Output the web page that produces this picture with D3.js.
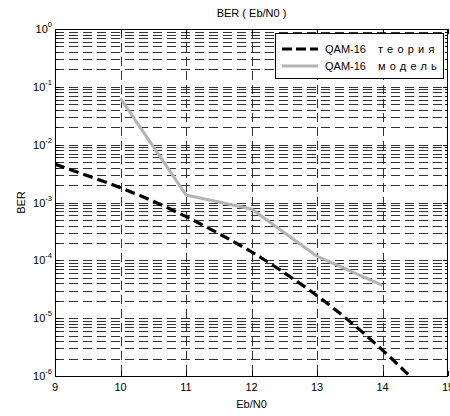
<!DOCTYPE html>
<html>
<head>
<meta charset="utf-8">
<script src="https://cdn.jsdelivr.net/npm/d3@7"></script>
<style>
  body { margin: 0; background: #fff; }
  text { font-family: "Liberation Sans", Arial, Helvetica, sans-serif; fill: #000; }
</style>
</head>
<body>
<div id="chart"></div>
<script>
// Eb/N0 (dB) and BER values
var theoryX = [9, 9.5, 10, 10.5, 11, 11.5, 12, 12.5, 13, 13.5, 14, 14.5, 15];
var theoryY = [4.6e-3, 2.9e-3, 1.8e-3, 1.05e-3, 5.7e-4, 2.9e-4, 1.4e-4, 6.1e-5, 2.45e-5, 8.8e-6, 2.8e-6, 8e-7, 2e-7];
var modelX = [10, 11, 12, 13, 14];
var modelY = [6.3e-2, 1.35e-3, 7.7e-4, 1.18e-4, 3.7e-5];
var xTicks = [9, 10, 11, 12, 13, 14, 15];
var yTickExp = [0, -1, -2, -3, -4, -5, -6];
var legendNames = [["QAM-16", "теория"], ["QAM-16", "модель"]];

var W = 450, H = 416;
var pLeft = 55, pTop = 29, pRight = 448, pBottom = 376;

var svg = d3.select("#chart").append("svg")
    .attr("width", W)
    .attr("height", H);

var x = d3.scaleLinear().domain([9, 15]).range([pLeft, pRight]);
var y = d3.scaleLog().domain([1e-6, 1]).range([pBottom, pTop]);

svg.append("clipPath").attr("id", "plot")
    .append("rect")
    .attr("x", pLeft).attr("y", pTop)
    .attr("width", pRight - pLeft).attr("height", pBottom - pTop);

// minor + major horizontal values
var hVals = [];
for (var p = -6; p < 0; p++) {
    for (var k = 1; k <= 9; k++) hVals.push(k * Math.pow(10, p));
}
function isMajor(d) {
    return Math.abs(Math.log10(d) - Math.round(Math.log10(d))) < 1e-9;
}
function py(d) { return Math.round(y(d)) + 0.5; }
function px(d) { return Math.round(x(d)) + 0.5; }

var grid = svg.append("g").attr("clip-path", "url(#plot)");
grid.selectAll("line.h")
    .data(hVals)
    .enter().append("line")
    .attr("class", "h")
    .attr("x1", pLeft).attr("x2", pRight)
    .attr("y1", py).attr("y2", py)
    .attr("stroke", "#333")
    .attr("stroke-width", 1)
    .attr("stroke-dasharray", "9,5");
grid.selectAll("line.v")
    .data(xTicks.slice(1, -1))
    .enter().append("line")
    .attr("class", "v")
    .attr("x1", px).attr("x2", px)
    .attr("y1", pTop).attr("y2", pBottom)
    .attr("stroke", "#333")
    .attr("stroke-width", 1)
    .attr("stroke-dasharray", "9,5");

// ticks inside the box
var tk = svg.append("g").attr("stroke", "#000").attr("stroke-width", 1);
tk.selectAll("line.yl")
    .data(hVals)
    .enter().append("line")
    .attr("class", "yl")
    .attr("x1", pLeft).attr("x2", function(d) { return pLeft + (isMajor(d) ? 5 : 3); })
    .attr("y1", py).attr("y2", py);
tk.selectAll("line.yr")
    .data(hVals)
    .enter().append("line")
    .attr("class", "yr")
    .attr("x1", pRight).attr("x2", function(d) { return pRight - (isMajor(d) ? 5 : 3); })
    .attr("y1", py).attr("y2", py);
tk.selectAll("line.xb")
    .data(xTicks)
    .enter().append("line")
    .attr("class", "xb")
    .attr("x1", px).attr("x2", px)
    .attr("y1", pBottom).attr("y2", pBottom - 5);
tk.selectAll("line.xt")
    .data(xTicks)
    .enter().append("line")
    .attr("class", "xt")
    .attr("x1", px).attr("x2", px)
    .attr("y1", pTop).attr("y2", pTop + 5);

// data lines
var line = d3.line()
    .x(function(d) { return x(d[0]); })
    .y(function(d) { return y(d[1]); });

var plot = svg.append("g").attr("clip-path", "url(#plot)");
plot.append("path")
    .datum(modelX.map(function(v, i) { return [v, modelY[i]]; }))
    .attr("d", line)
    .attr("fill", "none")
    .attr("stroke", "#b4b4b4")
    .attr("stroke-width", 3)
    .attr("stroke-linejoin", "round");
plot.append("path")
    .datum(theoryX.map(function(v, i) { return [v, theoryY[i]]; }))
    .attr("d", line.curve(d3.curveMonotoneX))
    .attr("fill", "none")
    .attr("stroke", "#000")
    .attr("stroke-width", 3.2)
    .attr("stroke-dasharray", "10,5");

// box
svg.append("rect")
    .attr("x", pLeft + 0.5).attr("y", pTop + 0.5)
    .attr("width", pRight - pLeft - 1).attr("height", pBottom - pTop)
    .attr("fill", "none")
    .attr("stroke", "#000")
    .attr("stroke-width", 1);

// x tick labels
svg.selectAll("text.xl")
    .data(xTicks)
    .enter().append("text")
    .attr("class", "xl")
    .attr("x", function(d) { return x(d); })
    .attr("y", pBottom + 15)
    .attr("text-anchor", "middle")
    .attr("font-size", 11)
    .text(function(d) { return d; });

// y tick labels 10^p
var yl = svg.selectAll("text.ylab")
    .data(yTickExp)
    .enter().append("text")
    .attr("class", "ylab")
    .attr("x", pLeft - 3)
    .attr("y", function(d) { return y(Math.pow(10, d)) + 4; })
    .attr("text-anchor", "end")
    .attr("font-size", 11);
yl.append("tspan").text("10");
yl.append("tspan")
    .attr("dy", -6)
    .attr("font-size", 7.5)
    .text(function(d) { return d === 0 ? "0" : "-" + Math.abs(d); });

// titles
svg.append("text")
    .attr("x", (pLeft + pRight) / 2)
    .attr("y", 17)
    .attr("text-anchor", "middle")
    .attr("font-size", 11)
    .text("BER ( Eb/N0 )");
svg.append("text")
    .attr("x", (pLeft + pRight) / 2)
    .attr("y", 408)
    .attr("text-anchor", "middle")
    .attr("font-size", 11)
    .text("Eb/N0");
svg.append("text")
    .attr("transform", "translate(25," + ((pTop + pBottom) / 2) + ") rotate(-90)")
    .attr("text-anchor", "middle")
    .attr("font-size", 11)
    .text("BER");

// legend
var lg = svg.append("g");
lg.append("rect")
    .attr("x", 275.5).attr("y", 33.5)
    .attr("width", 168).attr("height", 45)
    .attr("fill", "#fff")
    .attr("stroke", "#000");
var styles = [
    { stroke: "#000", dash: "10,4", w: 3.2 },
    { stroke: "#b4b4b4", dash: null, w: 3 }
];
var rows = lg.selectAll("g.row")
    .data(legendNames)
    .enter().append("g")
    .attr("class", "row")
    .attr("transform", function(d, i) { return "translate(0," + (49 + i * 17) + ")"; });
rows.append("line")
    .attr("x1", 282).attr("x2", 318)
    .attr("y1", 0).attr("y2", 0)
    .attr("stroke", function(d, i) { return styles[i].stroke; })
    .attr("stroke-width", function(d, i) { return styles[i].w; })
    .attr("stroke-dasharray", function(d, i) { return styles[i].dash; });
rows.append("text")
    .attr("x", 325).attr("y", 4)
    .attr("font-size", 11)
    .text(function(d) { return d[0]; });
rows.append("text")
    .attr("x", 378).attr("y", 4)
    .attr("font-size", 11)
    .attr("letter-spacing", 4.2)
    .text(function(d) { return d[1]; });
</script>
</body>
</html>
